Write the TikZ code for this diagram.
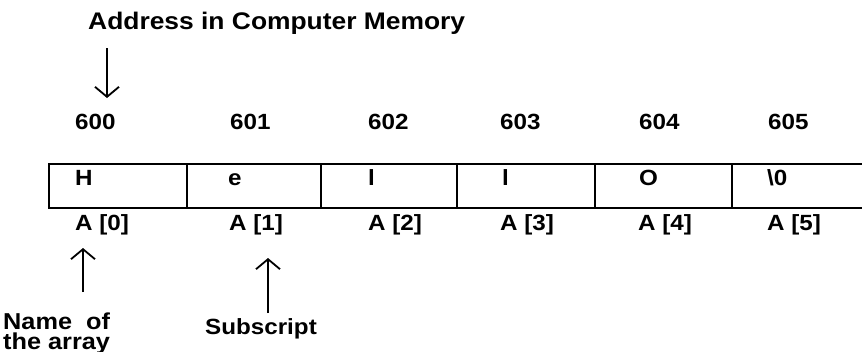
\documentclass[tikz,border=0pt]{standalone}
\usepackage{fontspec}
\newfontfamily\lblfont{Liberation Sans}[FakeStretch=1.1]
\usetikzlibrary{arrows.meta}
\begin{document}
\begin{tikzpicture}[x=1pt,y=-1pt,
  txt/.style={anchor=base west,inner sep=0pt,font=\lblfont\bfseries\fontsize{22}{24}\selectfont},
  big/.style={anchor=base west,inner sep=0pt,font=\lblfont\bfseries\fontsize{24}{19}\selectfont},
  twoline/.style={anchor=base west,inner sep=0pt,align=left,font=\lblfont\bfseries\fontsize{23}{19.5}\selectfont},
  cellline/.style={line width=2pt},
  ptr/.style={line width=1.8pt,-{Straight Barb[length=10pt,width=24pt,line width=1.8pt]}}]
\useasboundingbox (0,0) rectangle (862,351);
% title and down arrow
\node[big] (title) at (88,29) {Address in Computer Memory};
\coordinate (dstart) at (107,48);
% addresses
\node[txt] (a600) at (75,129) {600};
\node[txt] (a601) at (230,129) {601};
\node[txt] (a602) at (368,129) {602};
\node[txt] (a603) at (500,129) {603};
\node[txt] (a604) at (639,129) {604};
\node[txt] (a605) at (768,129) {605};
\coordinate (dend) at (107,98);
\draw[ptr] (dstart) -- (dend);
% cells
\draw[cellline] (862,164) -- (49,164) -- (49,208) -- (862,208);
\foreach \x in {187,321,457,595,732} \draw[cellline] (\x,164) -- (\x,208);
\node[txt] (c0) at (75,185) {H};
\node[txt] (c1) at (228,185) {e};
\node[txt] (c2) at (368,185) {l};
\node[txt] (c3) at (502,185) {l};
\node[txt] (c4) at (639,185) {O};
\node[txt] (c5) at (767,185) {\textbackslash 0};
% indices
\node[txt] (i0) at (75,230) {A [0]};
\node[txt] (i1) at (229,230) {A [1]};
\node[txt] (i2) at (368,230) {A [2]};
\node[txt] (i3) at (500,230) {A [3]};
\node[txt] (i4) at (638,230) {A [4]};
\node[txt] (i5) at (767,230) {A [5]};
% bottom labels
\node[twoline] (name) at (3,349) {Name\ \ of\\the array};
\node[txt] (sub) at (205,334) {Subscript};
\coordinate (u1s) at (83,292);
\coordinate (u1e) at (83,248);
\coordinate (u2s) at (268,313);
\coordinate (u2e) at (268,258);
\draw[ptr] (u1s) -- (u1e);
\draw[ptr] (u2s) -- (u2e);
\end{tikzpicture}
\end{document}
